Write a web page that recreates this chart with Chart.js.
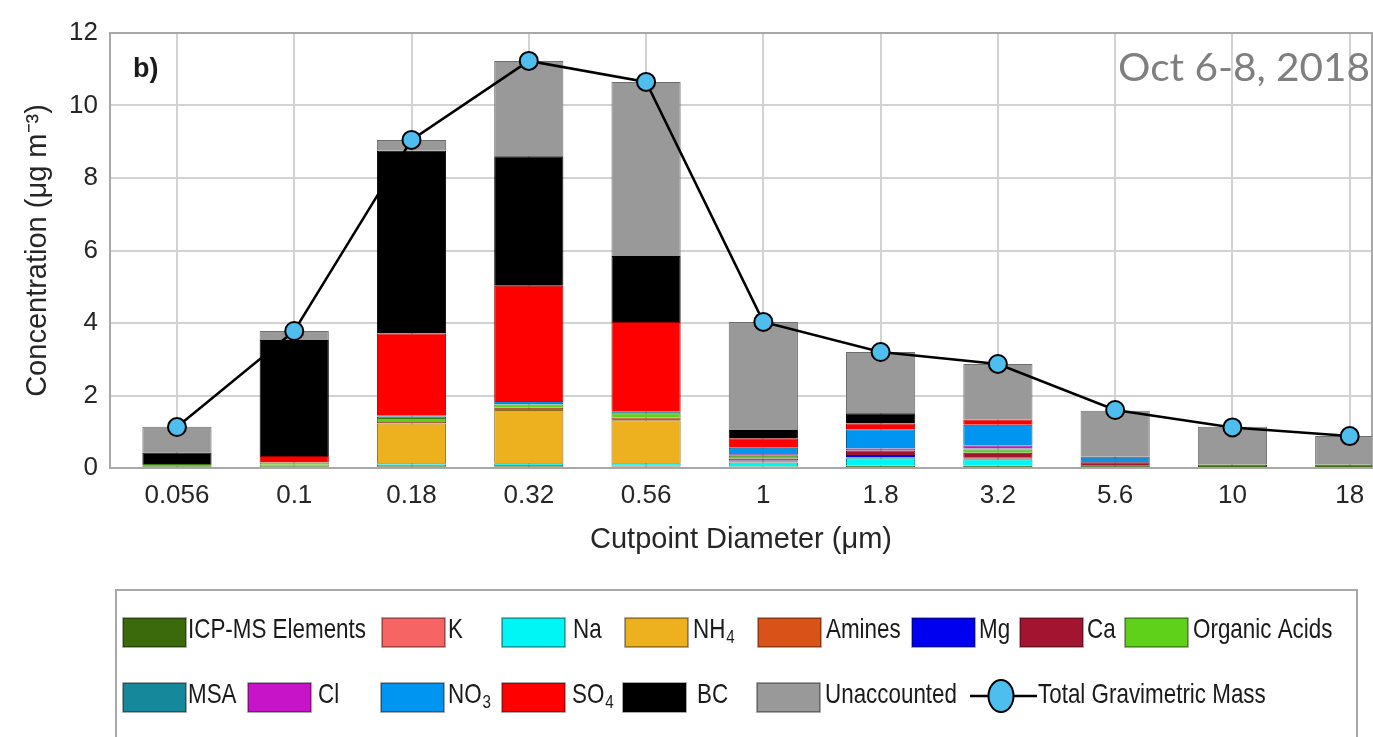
<!DOCTYPE html>
<html>
<head>
<meta charset="utf-8">
<title>Cutpoint Diameter</title>
<script src="https://cdn.jsdelivr.net/npm/chart.js@4.4.1/dist/chart.umd.min.js"></script>
<style>
  html, body { margin: 0; padding: 0; background: #fff; }
  #wrap { width: 1373px; height: 737px; }
</style>
</head>
<body>
<div id="wrap"><canvas id="grafica"></canvas></div>
<script>
// Datos (ug m-3), un valor por cada diametro de corte
const cutpoints = ['0.056', '0.1', '0.18', '0.32', '0.56', '1', '1.8', '3.2', '5.6', '10', '18'];

const icpms        = [0.05, 0.05, 0.05, 0.05, 0.04, 0.04, 0.06, 0.06, 0.06, 0.10, 0.10];
const potasio      = [0.00, 0.00, 0.04, 0.03, 0.03, 0.00, 0.00, 0.00, 0.00, 0.00, 0.00];
const sodio        = [0.00, 0.00, 0.04, 0.05, 0.06, 0.11, 0.21, 0.18, 0.00, 0.00, 0.00];
const amonio       = [0.00, 0.04, 1.10, 1.47, 1.19, 0.00, 0.00, 0.00, 0.00, 0.00, 0.00];
const aminas       = [0.00, 0.00, 0.04, 0.06, 0.07, 0.03, 0.03, 0.03, 0.00, 0.00, 0.00];
const magnesio     = [0.00, 0.00, 0.00, 0.00, 0.00, 0.03, 0.06, 0.03, 0.02, 0.00, 0.00];
const calcio       = [0.00, 0.00, 0.00, 0.00, 0.00, 0.05, 0.12, 0.12, 0.08, 0.00, 0.00];
const organicos    = [0.06, 0.06, 0.11, 0.09, 0.12, 0.08, 0.00, 0.09, 0.00, 0.00, 0.00];
const msa          = [0.00, 0.00, 0.04, 0.04, 0.04, 0.00, 0.00, 0.03, 0.00, 0.00, 0.00];
const cloro        = [0.00, 0.00, 0.00, 0.00, 0.00, 0.04, 0.06, 0.08, 0.00, 0.00, 0.00];
const nitrato      = [0.00, 0.00, 0.02, 0.06, 0.00, 0.18, 0.53, 0.57, 0.12, 0.00, 0.00];
const sulfato      = [0.00, 0.18, 2.27, 3.18, 2.48, 0.26, 0.16, 0.15, 0.00, 0.00, 0.00];
const carbonNegro  = [0.32, 3.20, 5.04, 3.57, 1.82, 0.23, 0.28, 0.00, 0.03, 0.00, 0.00];
const sinAsignar   = [0.71, 0.25, 0.30, 2.63, 4.80, 2.98, 1.69, 1.53, 1.27, 1.04, 0.78];
const masaTotal    = [1.13, 3.78, 9.05, 11.23, 10.65, 4.03, 3.20, 2.87, 1.60, 1.12, 0.88];

const etiquetas = ['ICP-MS Elements', 'K', 'Na', 'NH_4', 'Amines', 'Mg', 'Ca', 'Organic Acids',
                   'MSA', 'Cl', 'NO_3', 'SO_4', 'BC', 'Unaccounted'];
const series = [icpms, potasio, sodio, amonio, aminas, magnesio, calcio, organicos,
                msa, cloro, nitrato, sulfato, carbonNegro, sinAsignar];
const colores = ['#3b6a0c', '#f76464', '#00f5f5', '#edb120', '#d95319', '#0000f0', '#a2142f', '#5fd11a',
                 '#16889c', '#c814c8', '#0095f0', '#ff0000', '#000000', '#999999'];

const fuente = "'Liberation Sans', Arial, Helvetica, sans-serif";
Chart.defaults.font.family = fuente;
Chart.defaults.color = '#262626';

// borde un poco mas oscuro que el relleno
function oscurecer(hex, f) {
  const n = parseInt(hex.slice(1), 16);
  const r = Math.round(((n >> 16) & 255) * f);
  const g = Math.round(((n >> 8) & 255) * f);
  const b = Math.round((n & 255) * f);
  return `rgb(${r},${g},${b})`;
}

const datasets = series.map((valores, k) => ({
  type: 'bar',
  label: etiquetas[k],
  data: valores.map((v, i) => ({ x: i, y: v })),
  backgroundColor: colores[k],
  borderColor: colores[k] === '#999999' ? '#6e6e6e' : oscurecer(colores[k], 0.6),
  borderWidth: 1,
  barPercentage: 0.59,
  categoryPercentage: 1,
  stack: 'pm',
  order: 2
}));

datasets.push({
  type: 'line',
  label: 'Total Gravimetric Mass',
  data: masaTotal.map((v, i) => ({ x: i, y: v })),
  borderColor: '#000',
  borderWidth: 2.5,
  pointRadius: 9,
  pointBackgroundColor: '#4dbeee',
  pointBorderColor: '#000',
  pointBorderWidth: 2,
  tension: 0,
  clip: false,
  order: 0
});

// posiciones de la leyenda (cuadro de color y texto)
const leyenda = [
  { sx: 123, tx: 188, fila: 0 }, { sx: 382, tx: 448, fila: 0 }, { sx: 502, tx: 573, fila: 0 },
  { sx: 625, tx: 693, fila: 0 }, { sx: 758, tx: 826, fila: 0 }, { sx: 912, tx: 979, fila: 0 },
  { sx: 1020, tx: 1087, fila: 0 }, { sx: 1125, tx: 1193, fila: 0 },
  { sx: 123, tx: 188, fila: 1 }, { sx: 248, tx: 318, fila: 1 }, { sx: 381, tx: 448, fila: 1 },
  { sx: 502, tx: 572, fila: 1 }, { sx: 623, tx: 697, fila: 1 }, { sx: 757, tx: 825, fila: 1 },
  { sx: 970, tx: 1038, fila: 1 }
];
const filaTop = [618, 683];

function textoLeyenda(ctx, texto, x, y) {
  const [base, sub] = texto.split('_');
  ctx.save();
  ctx.translate(x, y);
  ctx.scale(0.8, 1);
  ctx.font = '28px ' + fuente;
  ctx.fillText(base, 0, 0);
  if (sub) {
    const w = ctx.measureText(base).width;
    ctx.font = '19px ' + fuente;
    ctx.fillText(sub, w + 1, 5);
  }
  ctx.restore();
}

const adornos = {
  id: 'adornos',
  beforeDatasetsDraw(chart) {
    const { ctx, chartArea: a } = chart;
    ctx.save();
    ctx.strokeStyle = '#a8a8a8';
    ctx.lineWidth = 2;
    ctx.strokeRect(a.left, a.top, a.right - a.left, a.bottom - a.top);
    ctx.restore();
  },
  afterDraw(chart) {
    const ctx = chart.ctx;
    ctx.save();
    ctx.fillStyle = '#1a1a1a';
    ctx.textBaseline = 'alphabetic';
    ctx.font = 'bold 27px ' + fuente;
    ctx.fillText('b)', 133, 77);

    // fecha
    ctx.fillStyle = '#7f7f7f';
    ctx.font = '38px Lato, ' + fuente;
    const fecha = 'Oct 6-8, 2018';
    const fw = ctx.measureText(fecha).width;
    ctx.save();
    ctx.translate(1118, 81);
    ctx.scale(252 / fw, 1);
    ctx.fillText(fecha, 0, 0);
    ctx.restore();

    // caja de la leyenda
    ctx.strokeStyle = '#a8a8a8';
    ctx.lineWidth = 2;
    ctx.strokeRect(116, 590, 1357 - 116, 160);

    ctx.fillStyle = '#1a1a1a';
    chart.data.datasets.forEach((ds, k) => {
      const p = leyenda[k];
      const top = filaTop[p.fila];
      if (ds.type === 'bar') {
        ctx.fillStyle = ds.backgroundColor;
        ctx.fillRect(p.sx, top, 63, 29);
        ctx.strokeStyle = 'rgba(0,0,0,0.45)';
        ctx.lineWidth = 1.5;
        ctx.strokeRect(p.sx, top, 63, 29);
      } else {
        const cy = top + 13;
        ctx.strokeStyle = '#000';
        ctx.lineWidth = 2.5;
        ctx.beginPath();
        ctx.moveTo(p.sx, cy);
        ctx.lineTo(p.sx + 67, cy);
        ctx.stroke();
        ctx.beginPath();
        ctx.ellipse(p.sx + 31, cy, 12.5, 16, 0, 0, Math.PI * 2);
        ctx.fillStyle = ds.pointBackgroundColor;
        ctx.fill();
        ctx.lineWidth = 2;
        ctx.stroke();
      }
      ctx.fillStyle = '#1a1a1a';
      textoLeyenda(ctx, ds.label, p.tx, top + 20);
    });
    ctx.restore();
  }
};

const rejilla = { color: '#d2d2d2', lineWidth: 2, drawTicks: false };

new Chart(document.getElementById('grafica'), {
  data: { datasets },
  options: {
    responsive: true,
    maintainAspectRatio: false,
    animation: false,
    layout: { autoPadding: false, padding: { top: 33, right: 1, bottom: 150, left: 0 } },
    plugins: {
      legend: { display: false },
      tooltip: { enabled: false }
    },
    scales: {
      x: {
        type: 'linear',
        stacked: true,
        offset: false,
        min: -0.571,
        max: 10.19,
        afterBuildTicks: s => { s.ticks = cutpoints.map((_, i) => ({ value: i })); },
        afterFit: s => { s.height = 119; s.paddingLeft = 0; s.paddingRight = 0; },
        ticks: {
          callback: v => cutpoints[v],
          font: { size: 26 },
          color: '#262626',
          padding: 12,
          maxRotation: 0,
          autoSkip: false
        },
        grid: { ...rejilla, offset: false },
        border: { display: false },
        title: {
          display: true,
          text: 'Cutpoint Diameter (μm)',
          font: { size: 29 },
          color: '#262626',
          padding: { top: 0, bottom: 30 }
        }
      },
      y: {
        stacked: true,
        min: 0,
        max: 12,
        afterFit: s => { s.width = 110; },
        ticks: {
          stepSize: 2,
          font: { size: 26 },
          color: '#262626',
          padding: 12
        },
        grid: rejilla,
        border: { display: false },
        title: {
          display: true,
          text: 'Concentration (μg m⁻³)',
          font: { size: 29 },
          color: '#262626',
          padding: { top: 21, bottom: 0 }
        }
      }
    }
  },
  plugins: [adornos]
});
</script>
</body>
</html>
